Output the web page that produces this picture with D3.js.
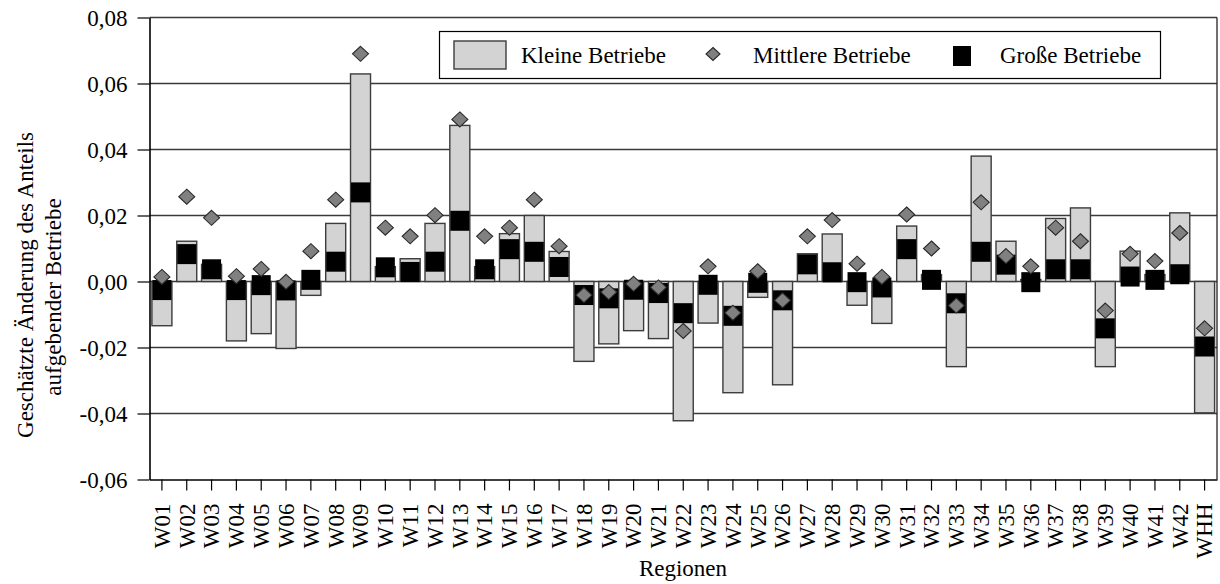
<!DOCTYPE html>
<html>
<head>
<meta charset="utf-8">
<script src="https://cdn.jsdelivr.net/npm/d3@7"></script>
<style>
  body { margin: 0; background: #fff; }
  svg { display: block; font-family: "Liberation Serif", "Times New Roman", serif; }
</style>
</head>
<body>
<script>
var regions = ["W01","W02","W03","W04","W05","W06","W07","W08","W09","W10",
               "W11","W12","W13","W14","W15","W16","W17","W18","W19","W20",
               "W21","W22","W23","W24","W25","W26","W27","W28","W29","W30",
               "W31","W32","W33","W34","W35","W36","W37","W38","W39","W40",
               "W41","W42","WHH"];

// Kleine Betriebe (bars)
var klein = [-0.0134, 0.0122, 0.0052, -0.018, -0.0158, -0.0203, -0.0042, 0.0176, 0.0629, 0.0045,
             0.0069, 0.0176, 0.0473, 0.0045, 0.0145, 0.020, 0.0091, -0.0242, -0.0189, -0.0149,
             -0.0173, -0.0422, -0.0126, -0.0337, -0.0048, -0.0313, 0.0084, 0.0144, -0.0072, -0.0127,
             0.0168, 0.0021, -0.0258, 0.038, 0.0122, 0.0006, 0.0191, 0.0223, -0.0258, 0.0092,
             0.0021, 0.0208, -0.0398];

// Mittlere Betriebe (diamonds)
var mittel = [0.0014, 0.0257, 0.0193, 0.0016, 0.0038, -0.0001, 0.0092, 0.0248, 0.069, 0.0163,
              0.0137, 0.0201, 0.0491, 0.0137, 0.0163, 0.0248, 0.0107, -0.0041, -0.0032, -0.0007,
              -0.0018, -0.015, 0.0046, -0.0095, 0.0031, -0.0057, 0.0137, 0.0186, 0.0054, 0.0014,
              0.0203, 0.010, -0.0073, 0.024, 0.0077, 0.0046, 0.0163, 0.0122, -0.0088, 0.0084,
              0.0062, 0.0147, -0.0142];

// Große Betriebe (squares)
var gross = [-0.0026, 0.0083, 0.0037, -0.0026, -0.0011, -0.0027, 0.0005, 0.006, 0.027, 0.0043,
             0.0029, 0.006, 0.0184, 0.0037, 0.0098, 0.009, 0.0044, -0.0041, -0.0051, -0.0025,
             -0.0035, -0.0096, -0.001, -0.0104, -0.0004, -0.0057, 0.0052, 0.0028, -0.0002, -0.0018,
             0.0098, 0.0005, -0.0066, 0.009, 0.0051, -0.0002, 0.0037, 0.0037, -0.0142, 0.0015,
             0.0005, 0.0022, -0.0197];

var yTicks = [-0.06, -0.04, -0.02, 0, 0.02, 0.04, 0.06, 0.08];
var seriesNames = ["Kleine Betriebe", "Mittlere Betriebe", "Große Betriebe"];

var width = 1220, height = 584;
var plotL = 149.5, plotR = 1217, plotT = 17.5, plotB = 479.5;

var de = d3.formatLocale({decimal: ",", thousands: ".", grouping: [3], currency: ["", " €"], minus: "-"});
var fmt = de.format(".2f");

var x = d3.scaleBand().domain(regions).range([plotL, plotR]).padding(0);
var y = d3.scaleLinear().domain([-0.06, 0.08]).range([plotB, plotT]);

var barW = 20, sqW = 19, sqH = 20, dW = 8, dH = 7.5;

var svg = d3.select("body").append("svg")
    .attr("width", width)
    .attr("height", height);

svg.append("rect").attr("width", width).attr("height", height).attr("fill", "#fff");

// gridlines
svg.append("g").selectAll("line")
    .data(yTicks.filter(function(t) { return t > -0.06; }))
  .enter().append("line")
    .attr("x1", plotL).attr("x2", plotR)
    .attr("y1", function(d) { return y(d); })
    .attr("y2", function(d) { return y(d); })
    .attr("stroke", "#3a3a3a")
    .attr("stroke-width", 1.3);

// right border
svg.append("line")
    .attr("x1", plotR).attr("x2", plotR).attr("y1", plotT).attr("y2", plotB)
    .attr("stroke", "#222").attr("stroke-width", 1.3);

var cx = function(i) { return x(regions[i]) + x.bandwidth() / 2; };

// bars
svg.append("g").selectAll("rect")
    .data(klein)
  .enter().append("rect")
    .attr("x", function(d, i) { return cx(i) - barW / 2; })
    .attr("y", function(d) { return y(Math.max(0, d)); })
    .attr("width", barW)
    .attr("height", function(d) { return Math.abs(y(d) - y(0)); })
    .attr("fill", "#d3d3d3")
    .attr("stroke", "#3c3c3c")
    .attr("stroke-width", 1.4);

// große: squares
svg.append("g").selectAll("rect")
    .data(gross)
  .enter().append("rect")
    .attr("x", function(d, i) { return cx(i) - sqW / 2; })
    .attr("y", function(d) { return y(d) - sqH / 2; })
    .attr("width", sqW)
    .attr("height", sqH)
    .attr("fill", "#000");

// mittlere: diamonds
var diamond = function(px, py, w, h) {
  return "M" + px + "," + (py - h) + "L" + (px + w) + "," + py + "L" + px + "," + (py + h) + "L" + (px - w) + "," + py + "Z";
};
svg.append("g").selectAll("path")
    .data(mittel)
  .enter().append("path")
    .attr("d", function(d, i) { return diamond(cx(i), y(d), dW, dH); })
    .attr("fill", "#808080")
    .attr("stroke", "#2a2a2a")
    .attr("stroke-width", 1.1);

// axes
var yAxis = svg.append("g")
    .attr("transform", "translate(" + plotL + ",0)")
    .call(d3.axisLeft(y).tickValues(yTicks).tickFormat(fmt).tickSize(12).tickSizeOuter(0).tickPadding(10));
yAxis.select(".domain").attr("stroke", "#000").attr("stroke-width", 1.6);
yAxis.selectAll(".tick line").attr("stroke", "#000").attr("stroke-width", 1.2);
yAxis.selectAll("text")
    .attr("font-family", "Liberation Serif")
    .attr("font-size", 23)
    .attr("fill", "#000")
    .attr("x", -22)
    .attr("dy", "0.33em");

var xAxis = svg.append("g")
    .attr("transform", "translate(0," + plotB + ")")
    .call(d3.axisBottom(x).tickSize(11).tickSizeOuter(0));
xAxis.select(".domain").attr("stroke", "#000").attr("stroke-width", 1.6);
xAxis.selectAll(".tick line").attr("stroke", "#000").attr("stroke-width", 1.2);
xAxis.selectAll("text")
    .attr("font-family", "Liberation Serif")
    .attr("font-size", 23)
    .attr("fill", "#000")
    .attr("transform", "rotate(-90)")
    .attr("x", -24)
    .attr("y", 0)
    .attr("dy", "0.34em")
    .style("text-anchor", "end");

// axis titles
svg.append("text")
    .attr("transform", "translate(33,285) rotate(-90)")
    .attr("text-anchor", "middle")
    .attr("font-size", 23)
    .text("Geschätzte Änderung des Anteils");
svg.append("text")
    .attr("transform", "translate(61,297) rotate(-90)")
    .attr("text-anchor", "middle")
    .attr("font-size", 23)
    .text("aufgebender Betriebe");
svg.append("text")
    .attr("x", 683).attr("y", 576)
    .attr("text-anchor", "middle")
    .attr("font-size", 23)
    .text("Regionen");

// legend
var lg = svg.append("g");
lg.append("rect")
    .attr("x", 439.5).attr("y", 31.5).attr("width", 721).attr("height", 47)
    .attr("fill", "#fff").attr("stroke", "#000").attr("stroke-width", 1.2);
lg.append("rect")
    .attr("x", 454).attr("y", 41).attr("width", 52).attr("height", 28)
    .attr("fill", "#d3d3d3").attr("stroke", "#3c3c3c").attr("stroke-width", 1.4);
lg.append("path")
    .attr("d", diamond(713, 54, 7, 6.5))
    .attr("fill", "#808080").attr("stroke", "#2a2a2a").attr("stroke-width", 1.1);
lg.append("rect")
    .attr("x", 953).attr("y", 46).attr("width", 18).attr("height", 20)
    .attr("fill", "#000");
lg.selectAll("text.lab")
    .data(seriesNames)
  .enter().append("text")
    .attr("class", "lab")
    .attr("x", function(d, i) { return [521, 753, 1000][i]; })
    .attr("y", 63)
    .attr("font-size", 23)
    .text(function(d) { return d; });
</script>
</body>
</html>
